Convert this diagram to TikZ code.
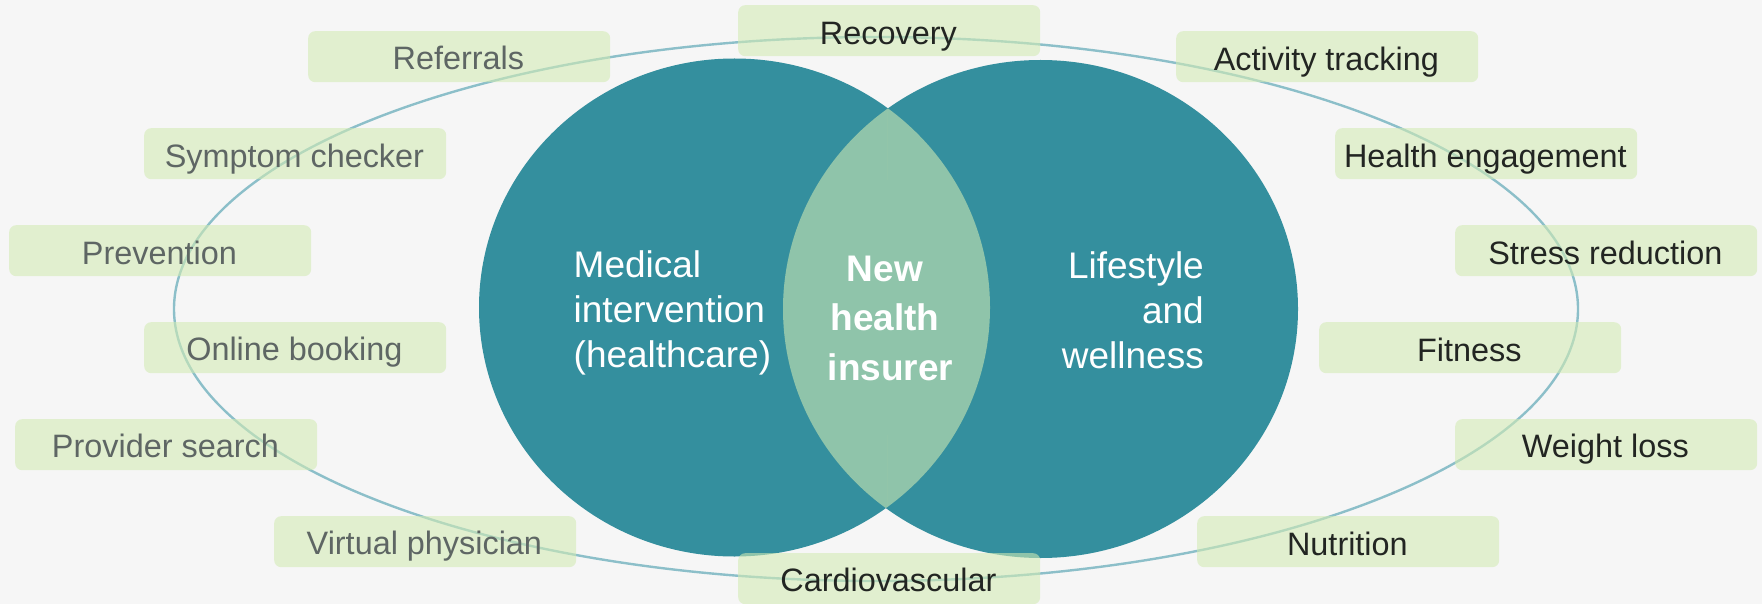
\documentclass[tikz,border=0pt]{standalone}
\usepackage{fontspec}
\setmainfont{Liberation Sans}
\definecolor{bgc}{HTML}{F6F6F6}
\definecolor{teal}{HTML}{348F9E}
\definecolor{boxc}{HTML}{D2EBB3}
\definecolor{ringc}{HTML}{8CBFC9}
\definecolor{seamc}{HTML}{92C5A9}
\definecolor{greyt}{HTML}{5E6664}
\definecolor{darkt}{HTML}{222522}
\tikzset{x=1pt,y=-1pt,
  tagbox/.style={fill=boxc,fill opacity=0.575,rounded corners=7pt,minimum width=302pt,minimum height=51pt,inner sep=0pt,anchor=north west},
  tagtext/.style={inner sep=0pt,font=\fontsize{32.4pt}{38pt}\selectfont},
  bigtext/.style={text=white,font=\fontsize{37pt}{45pt}\selectfont,inner sep=0pt}}
\newcommand{\tagat}[6]{%
  \node[tagbox] (#1) at (#2,#3) {};
  \node[tagtext,text=#4,yshift=-#5pt,xshift=-0.8pt] (#1t) at (#1) {#6};}
\begin{document}
\begin{tikzpicture}
\path[use as bounding box,fill=bgc] (0,0) rectangle (1762,604);
\coordinate (lc) at (734.5,307.5);
\coordinate (rc) at (1040.5,309);
\fill[teal] (lc) ellipse [x radius=255.5,y radius=249];
\fill[teal] (rc) ellipse [x radius=257.5,y radius=249];
\begin{scope}
\clip (lc) ellipse [x radius=255.5,y radius=249];
\fill[boxc,fill opacity=0.575] (rc) ellipse [x radius=257.5,y radius=249];
\end{scope}
\coordinate (s1) at (887,111);
\coordinate (s2) at (887,180);
\coordinate (s3) at (887,435);
\coordinate (s4) at (887,506);
\draw[seamc,line width=1pt] (s1) -- (s2);
\draw[seamc,line width=1pt] (s3) -- (s4);
\draw[ringc,line width=2.4pt] (876,309) ellipse [x radius=702,y radius=272];
\tagat{referrals}{308}{31}{greyt}{1}{Referrals}
\tagat{symptom}{144}{128}{greyt}{5.5}{Symptom checker}
\tagat{prevention}{9}{225}{greyt}{2}{Prevention}
\tagat{online}{144}{322}{greyt}{4.5}{Online booking}
\tagat{provider}{15}{419}{greyt}{1.5}{Provider search}
\tagat{virtual}{274}{516}{greyt}{4.5}{Virtual physician}
\tagat{recovery}{738}{5}{darkt}{6.5}{Recovery}
\tagat{activity}{1176}{31}{darkt}{5.5}{Activity tracking}
\tagat{health}{1335}{128}{darkt}{5.5}{Health engagement}
\tagat{stress}{1455}{225}{darkt}{2}{Stress reduction}
\tagat{fitness}{1319}{322}{darkt}{2}{Fitness}
\tagat{weight}{1455}{419}{darkt}{4.5}{Weight loss}
\tagat{nutrition}{1197}{516}{darkt}{2}{Nutrition}
\tagat{cardio}{738}{553}{darkt}{1}{Cardiovascular}
\node[bigtext,align=left,anchor=west] (med) at (573.5,313) {Medical\\intervention\\(healthcare)};
\node[bigtext,align=right,anchor=east] (life) at (1204,310.5) {Lifestyle\\and\\wellness};
\node[bigtext,font=\bfseries\fontsize{37pt}{49.5pt}\selectfont,align=center] (new) at (885,318) {New\\health\\\hspace*{11pt}insurer};
\end{tikzpicture}
\end{document}
